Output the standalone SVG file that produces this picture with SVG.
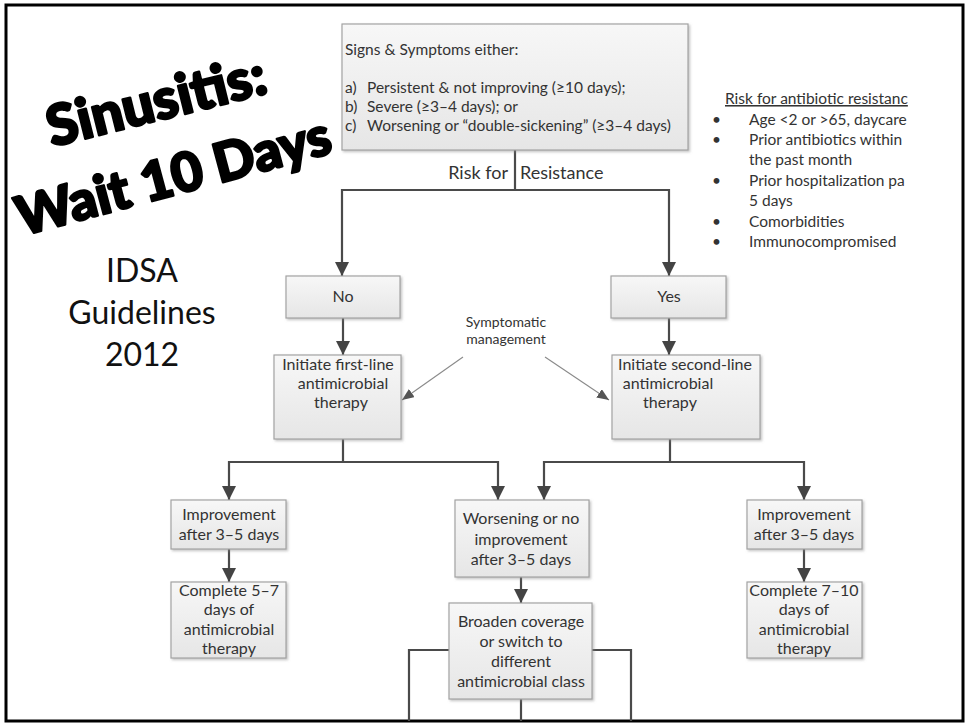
<svg xmlns="http://www.w3.org/2000/svg" width="968" height="723" viewBox="0 0 968 723">
<defs>
<linearGradient id="bg" x1="0" y1="0" x2="0" y2="1">
<stop offset="0" stop-color="#f7f7f7"/>
<stop offset="1" stop-color="#e6e6e6"/>
</linearGradient>
<filter id="sh" x="-10%" y="-10%" width="130%" height="130%">
<feDropShadow dx="1.5" dy="1.5" stdDeviation="1" flood-color="#888" flood-opacity="0.5"/>
</filter>
<marker id="ah" viewBox="0 0 14 14" refX="14" refY="7" markerWidth="14" markerHeight="14" markerUnits="userSpaceOnUse" orient="auto">
<path d="M0,0 L14,7 L0,14 z" fill="#444"/>
</marker>
<marker id="ahs" viewBox="0 0 12 10" refX="12" refY="5" markerWidth="12" markerHeight="10" markerUnits="userSpaceOnUse" orient="auto">
<path d="M0,0 L12,5 L0,10 z" fill="#555"/>
</marker>
<style>
.box{fill:url(#bg);stroke:#a3a3a3;stroke-width:1.2;filter:url(#sh)}
.t{font-family:Lato,"Liberation Sans",sans-serif;font-size:16px;fill:#333;text-anchor:middle}
.tl{font-family:Lato,"Liberation Sans",sans-serif;font-size:15.5px;fill:#333}
.ln{fill:none;stroke:#4a4a4a;stroke-width:2.2}
.ar{marker-end:url(#ah)}
.thin{fill:none;stroke:#8a8a8a;stroke-width:1.1;marker-end:url(#ahs)}
.title{font-family:Lato,"Liberation Sans",sans-serif;font-weight:900;fill:#000;stroke:#000;stroke-width:2.5;stroke-linejoin:round}
.idsa{font-family:Lato,"Liberation Sans",sans-serif;font-size:32px;fill:#111;text-anchor:middle}
</style>
</defs>
<rect x="0" y="0" width="968" height="723" fill="#fff"/>
<rect x="6" y="5" width="957" height="716" fill="none" stroke="#000" stroke-width="3"/>

<g id="title">
<text class="title" style="font-size:56px" x="52" y="147" transform="rotate(-14 52 147)">Sinusitis:</text>
<text class="title" style="font-size:54px" x="22" y="236" transform="rotate(-15 22 236)">Wait 10 Days</text>
</g>
<g id="idsa">
<text class="idsa" x="142" y="282">IDSA</text>
<text class="idsa" x="142" y="324">Guidelines</text>
<text class="idsa" x="142" y="366">2012</text>
</g>

<g id="connectors">
<path class="ln ar" d="M515,150 V190 H342 V276"/>
<path class="ln ar" d="M515,190 H669 V276"/>
<path class="ln ar" d="M343,318 V355"/>
<path class="ln ar" d="M669,318 V355"/>
<path class="thin" d="M463,357 L402,400"/>
<path class="thin" d="M545,357 L609,400"/>
<path class="ln ar" d="M343,439 V462 H229 V500"/>
<path class="ln ar" d="M343,462 H498 V500"/>
<path class="ln ar" d="M670,439 V462 H544 V500"/>
<path class="ln ar" d="M670,462 H804 V500"/>
<path class="ln ar" d="M229,549 V582"/>
<path class="ln ar" d="M804,549 V582"/>
<path class="ln ar" d="M521,577 V603"/>
<path class="ln" d="M449,650 H409 V721"/>
<path class="ln" d="M592,650 H631 V721"/>
<path class="ln" d="M521,699 V721"/>
</g>

<g id="risk-label">
<text class="tl" style="font-size:18px;text-anchor:end" x="508" y="179">Risk for</text>
<text class="tl" style="font-size:18px" x="520" y="179">Resistance</text>
</g>

<g id="signs">
<rect class="box" x="342" y="24" width="346" height="126"/>
<text class="tl" x="345" y="55">Signs &amp; Symptoms either:</text>
<text class="tl" x="345" y="93">a)</text><text class="tl" x="367" y="93">Persistent &amp; not improving (≥10 days);</text>
<text class="tl" x="345" y="112">b)</text><text class="tl" x="367" y="112">Severe (≥3–4 days); or</text>
<text class="tl" x="345" y="131">c)</text><text class="tl" x="367" y="131">Worsening or “double-sickening” (≥3–4 days)</text>
</g>

<g id="risk-list">
<text class="tl" x="725" y="104" text-decoration="underline">Risk for antibiotic resistanc</text>
<text class="tl" x="712" y="125">•</text><text class="tl" x="749" y="125">Age &lt;2 or &gt;65, daycare</text>
<text class="tl" x="712" y="145">•</text><text class="tl" x="749" y="145">Prior antibiotics within</text>
<text class="tl" x="749" y="165">the past month</text>
<text class="tl" x="712" y="186">•</text><text class="tl" x="749" y="186">Prior hospitalization pa</text>
<text class="tl" x="749" y="206">5 days</text>
<text class="tl" x="712" y="227">•</text><text class="tl" x="749" y="227">Comorbidities</text>
<text class="tl" x="712" y="247">•</text><text class="tl" x="749" y="247">Immunocompromised</text>
</g>

<g id="no">
<rect class="box" x="286" y="276" width="114" height="42"/>
<text class="t" x="343" y="302">No</text>
</g>
<g id="yes">
<rect class="box" x="611" y="276" width="115" height="42"/>
<text class="t" x="669" y="302">Yes</text>
</g>

<g id="symptomatic">
<text class="t" style="font-size:14px" x="506" y="327">Symptomatic</text>
<text class="t" style="font-size:14px" x="506" y="344">management</text>
</g>

<g id="first-line">
<rect class="box" x="274" y="355" width="127" height="84"/>
<text class="t" x="338" y="370">Initiate first-line</text>
<text class="t" x="343" y="389">antimicrobial</text>
<text class="t" x="341" y="408">therapy</text>
</g>
<g id="second-line">
<rect class="box" x="612" y="355" width="148" height="84"/>
<text class="t" x="685" y="370">Initiate second-line</text>
<text class="t" x="668" y="389">antimicrobial</text>
<text class="t" x="670" y="408">therapy</text>
</g>

<g id="improve-left">
<rect class="box" x="171" y="500" width="115" height="49"/>
<text class="t" x="229" y="520">Improvement</text>
<text class="t" x="229" y="540">after 3–5 days</text>
</g>
<g id="complete-left">
<rect class="box" x="171" y="582" width="115" height="76"/>
<text class="t" x="229" y="596">Complete 5–7</text>
<text class="t" x="229" y="615">days of</text>
<text class="t" x="229" y="635">antimicrobial</text>
<text class="t" x="229" y="654">therapy</text>
</g>

<g id="worsening">
<rect class="box" x="455" y="500" width="134" height="77"/>
<text class="t" x="521" y="524">Worsening or no</text>
<text class="t" x="521" y="545">improvement</text>
<text class="t" x="521" y="565">after 3–5 days</text>
</g>
<g id="broaden">
<rect class="box" x="449" y="603" width="143" height="96"/>
<text class="t" x="521" y="627">Broaden coverage</text>
<text class="t" x="521" y="647">or switch to</text>
<text class="t" x="521" y="667">different</text>
<text class="t" x="521" y="687">antimicrobial class</text>
</g>

<g id="improve-right">
<rect class="box" x="747" y="500" width="115" height="49"/>
<text class="t" x="804" y="520">Improvement</text>
<text class="t" x="804" y="540">after 3–5 days</text>
</g>
<g id="complete-right">
<rect class="box" x="747" y="582" width="115" height="76"/>
<text class="t" x="804" y="596">Complete 7–10</text>
<text class="t" x="804" y="615">days of</text>
<text class="t" x="804" y="635">antimicrobial</text>
<text class="t" x="804" y="654">therapy</text>
</g>
</svg>
